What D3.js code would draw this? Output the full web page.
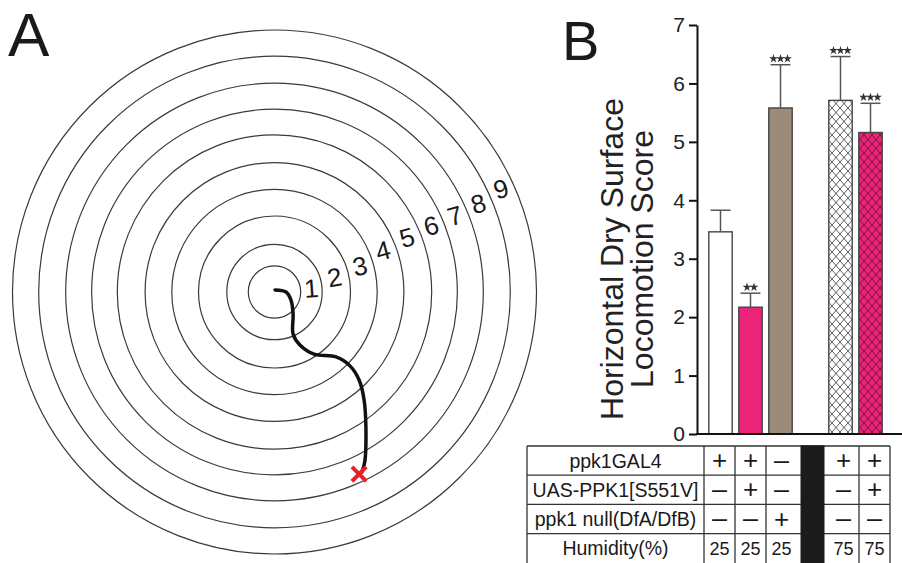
<!DOCTYPE html>
<html>
<head>
<meta charset="utf-8">
<script src="https://cdn.jsdelivr.net/npm/d3@7"></script>
<style>
body { margin: 0; background: #fff; }
svg { display: block; font-family: "Liberation Sans", Arial, sans-serif; }
</style>
</head>
<body>
<svg id="chart" width="902" height="563"></svg>
<script>
// ---- panel A : arena rings (arena units) and the larva track ----
var ringRadius = [1, 1.82, 2.9, 3.92, 4.94, 6, 6.98, 7.97, 9, 10];
var ringLabels = ["1", "2", "3", "4", "5", "6", "7", "8", "9"];
var ringLabelAngle = [-6, -14, -17, -21, -22.5, -23, -23, -23.5, -24.5];
var trackX = [0.02, 0.44, 0.63, 0.71, 0.71, 0.97, 1.51, 2.35, 2.88, 3.23, 3.42, 3.49, 3.45, 3.34];
var trackY = [-0.08, 0, 0.31, 0.84, 1.6, 2.02, 2.37, 2.48, 2.82, 3.36, 4.12, 5.23, 6.45, 6.87];
var endX = [3.23], endY = [6.95];

// ---- panel B : locomotion scores ----
var slots = ["g1", "g2", "g3", "gap", "g4", "g5"];
var bars = ["g1", "g2", "g3", "g4", "g5"];
var means = [3.46, 2.17, 5.58, 5.71, 5.16];
var errs = [0.37, 0.24, 0.74, 0.75, 0.5];
var stars = [0, 2, 3, 3, 3];
var fills = ["#ffffff", "#ec2479", "#9c8b79", "hatchWhite", "hatchPink"];
var yTicks = [0, 1, 2, 3, 4, 5, 6, 7];

var rowLabels = ["ppk1GAL4", "UAS-PPK1[S551V]", "ppk1 null(DfA/DfB)", "Humidity(%)"];
var ppk1GAL4 = ["+", "+", "\u2013", "+", "+"];
var uasPPK1 = ["\u2013", "+", "\u2013", "\u2013", "+"];
var ppk1Null = ["\u2013", "\u2013", "+", "\u2013", "\u2013"];
var humidity = ["25", "25", "25", "75", "75"];

var svg = d3.select("#chart");
var W = 902, H = 563;

// hatch patterns for the 75% humidity bars
var defs = svg.append("defs");
[["hatchWhite", "#ffffff", "#333"], ["hatchPink", "#ec2479", "#5a1030"]].forEach(function (p) {
    var pat = defs.append("pattern").attr("id", p[0])
        .attr("patternUnits", "userSpaceOnUse").attr("width", 8).attr("height", 9);
    pat.append("rect").attr("width", 8).attr("height", 9).attr("fill", p[1]);
    pat.append("path").attr("d", "M0,0L8,9M8,0L0,9")
        .attr("stroke", p[2]).attr("stroke-width", 0.8);
});

// ================= panel A =================
var ax = d3.scaleLinear().domain([0, 10]).range([274.5, 536.5]);
var ay = d3.scaleLinear().domain([0, 10]).range([292, 554]);
var ar = d3.scaleLinear().domain([0, 10]).range([0, 262]);

svg.append("text").attr("x", 8).attr("y", 56)
    .style("font-size", "62px").attr("fill", "#1a1a1a").text("A");

svg.append("g").selectAll("circle")
    .data(ringRadius)
    .enter().append("circle")
    .attr("cx", ax(0)).attr("cy", ay(0))
    .attr("r", function (d) { return ar(d); })
    .attr("fill", "none").attr("stroke", "#3a3a3a").attr("stroke-width", 1.2);

svg.append("g").selectAll("text")
    .data(ringLabels)
    .enter().append("text")
    .attr("transform", function (d, i) {
        var m = (ringRadius[i] + ringRadius[i + 1]) / 2,
            a = ringLabelAngle[i] * Math.PI / 180;
        return "translate(" + ax(m * Math.cos(a)) + "," + ay(m * Math.sin(a)) + ") rotate(" + (ringLabelAngle[i] * 0.7) + ")";
    })
    .attr("text-anchor", "middle").attr("dy", "0.36em")
    .style("font-size", "26px").attr("fill", "#1a1a1a")
    .text(function (d) { return d; });

var track = d3.line()
    .x(function (d, i) { return ax(trackX[i]); })
    .y(function (d, i) { return ay(trackY[i]); })
    .curve(d3.curveCatmullRom);
svg.append("path").attr("d", track(trackX))
    .attr("fill", "none").attr("stroke", "#111").attr("stroke-width", 3.5)
    .attr("stroke-linecap", "round");

svg.append("g").selectAll("path")
    .data(endX)
    .enter().append("path")
    .attr("transform", function (d, i) { return "translate(" + ax(d) + "," + ay(endY[i]) + ")"; })
    .attr("d", d3.symbol(d3.symbolX, 135))
    .attr("fill", "none").attr("stroke", "#e8202a").attr("stroke-width", 4);

// ================= panel B =================
var y = d3.scaleLinear().domain([0, 7]).range([434, 25]);
var x = d3.scaleBand().domain(slots).range([705.5, 885.5]).paddingInner(0.22).paddingOuter(0.11);
var axisX = 697;

svg.append("text").attr("x", 562).attr("y", 60)
    .style("font-size", "56px").attr("fill", "#1a1a1a").text("B");

var title = ["Horizontal Dry Surface", "Locomotion Score"];
svg.append("g").selectAll("text")
    .data(title)
    .enter().append("text")
    .attr("transform", function (d, i) { return "translate(" + (623 + i * 30) + ",259) rotate(-90)"; })
    .attr("text-anchor", "middle")
    .style("font-size", "32px").attr("fill", "#222")
    .text(function (d) { return d; });

// bars
var barG = svg.append("g");
barG.selectAll("rect")
    .data(bars)
    .enter().append("rect")
    .attr("x", function (d) { return x(d); })
    .attr("width", x.bandwidth())
    .attr("y", function (d, i) { return y(means[i]); })
    .attr("height", function (d, i) { return y(0) - y(means[i]); })
    .attr("fill", function (d, i) { return fills[i].charAt(0) === "#" ? fills[i] : "url(#" + fills[i] + ")"; })
    .attr("stroke", "#444").attr("stroke-width", 1.4);

// error bars (upper only)
var capW = x.bandwidth() * 0.85;
var err = barG.selectAll("g.err")
    .data(bars)
    .enter().append("g").attr("class", "err")
    .attr("stroke", "#555").attr("stroke-width", 1.5);
err.append("line")
    .attr("x1", function (d) { return x(d) + x.bandwidth() / 2; })
    .attr("x2", function (d) { return x(d) + x.bandwidth() / 2; })
    .attr("y1", function (d, i) { return y(means[i]); })
    .attr("y2", function (d, i) { return y(means[i] + errs[i]); });
err.append("line")
    .attr("x1", function (d) { return x(d) + x.bandwidth() / 2 - capW / 2; })
    .attr("x2", function (d) { return x(d) + x.bandwidth() / 2 + capW / 2; })
    .attr("y1", function (d, i) { return y(means[i] + errs[i]); })
    .attr("y2", function (d, i) { return y(means[i] + errs[i]); });

// significance stars
var starList = [];
bars.forEach(function (b, i) {
    for (var k = 0; k < stars[i]; k++) {
        starList.push({ b: b, i: i, off: (k - (stars[i] - 1) / 2) * 7 });
    }
});
barG.selectAll("path.star")
    .data(starList)
    .enter().append("path").attr("class", "star")
    .attr("transform", function (d) {
        return "translate(" + (x(d.b) + x.bandwidth() / 2 + d.off) + "," + (y(means[d.i] + errs[d.i]) - 6) + ")";
    })
    .attr("d", d3.symbol(d3.symbolStar, 24))
    .attr("fill", "#333");

// axes
var yAxis = svg.append("g").attr("transform", "translate(" + axisX + ",0)")
    .call(d3.axisLeft(y).tickValues(yTicks).tickFormat(d3.format("d"))
        .tickSize(8).tickSizeOuter(0).tickPadding(4));
yAxis.select(".domain").attr("stroke", "#111").attr("stroke-width", 2);
yAxis.selectAll(".tick line").attr("stroke", "#111").attr("stroke-width", 2);
yAxis.selectAll(".tick text").style("font-size", "21px").attr("fill", "#222")
    .style("font-family", "'Liberation Sans', Arial, sans-serif");

svg.append("line")
    .attr("x1", axisX - 1).attr("x2", W)
    .attr("y1", y(0)).attr("y2", y(0))
    .attr("stroke", "#111").attr("stroke-width", 2);

// ---- genotype table ----
var tTop = 446, rowH = 29.2, tLeft = 527, tFirst = 704, tRight = 890;
var tx = d3.scaleBand().domain(slots).range([tFirst, tRight]);
var rowY = d3.scaleBand().domain(rowLabels).range([tTop, tTop + rowH * 4]);
var tbl = svg.append("g");

tbl.selectAll("line.h")
    .data(rowLabels)
    .enter().append("line").attr("class", "h")
    .attr("x1", tLeft).attr("x2", tRight)
    .attr("y1", function (d) { return rowY(d); }).attr("y2", function (d) { return rowY(d); })
    .attr("stroke", "#333").attr("stroke-width", 1.3);

var vEdges = [tLeft, tFirst, tx("g2"), tx("g3"), tx("g5"), tRight];
tbl.selectAll("line.v")
    .data(vEdges)
    .enter().append("line").attr("class", "v")
    .attr("x1", function (d) { return d; }).attr("x2", function (d) { return d; })
    .attr("y1", tTop).attr("y2", H)
    .attr("stroke", "#333").attr("stroke-width", 1.3);

tbl.append("rect")
    .attr("x", tx("gap") + (tx.bandwidth() - 24) / 2).attr("width", 24)
    .attr("y", tTop - 0.7).attr("height", H - tTop + 1)
    .attr("fill", "#1c1a1b");

tbl.selectAll("text.rl")
    .data(rowLabels)
    .enter().append("text").attr("class", "rl")
    .attr("x", (tLeft + tFirst) / 2)
    .attr("y", function (d) { return rowY(d) + rowH / 2; })
    .attr("dy", "0.36em").attr("text-anchor", "middle")
    .style("font-size", "19.5px").attr("fill", "#1a1a1a")
    .text(function (d) { return d; });

var rowsData = [ppk1GAL4, uasPPK1, ppk1Null, humidity];
rowsData.forEach(function (row, r) {
    tbl.selectAll("text.c" + r)
        .data(row)
        .enter().append("text").attr("class", "c" + r)
        .attr("x", function (d, i) { return tx(bars[i]) + tx.bandwidth() / 2; })
        .attr("y", rowY(rowLabels[r]) + rowH / 2)
        .attr("dy", function (d) { return d === "+" ? "0.33em" : (d === "\u2013" ? "0.3em" : "0.36em"); })
        .attr("text-anchor", "middle")
        .style("font-size", function (d) { return d === "+" ? "26px" : (d === "\u2013" ? "27px" : "18px"); })
        .attr("fill", "#1a1a1a")
        .text(function (d) { return d; });
});
</script>
</body>
</html>
